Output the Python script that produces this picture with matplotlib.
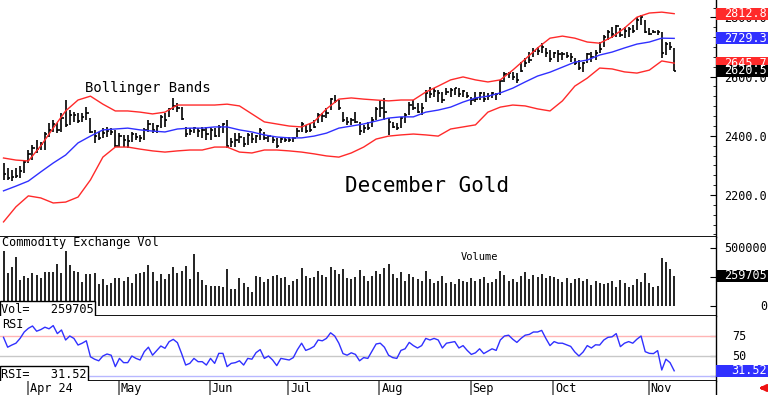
import numpy as np
import pandas as pd
import matplotlib
matplotlib.use("Agg")
import matplotlib.pyplot as plt
from matplotlib.patches import Rectangle, FancyArrowPatch
from matplotlib.ticker import AutoMinorLocator

plt.rcParams['font.family'] = ['DejaVu Sans Mono']

W, H, DPI = 768, 395, 100
RIGHT = 716  # pixel x of the price scale line

RED = '#ff2a2a'
BLUE = '#3030ff'

# trading days of the December 2024 gold contract shown
holidays = ['2024-03-29', '2024-05-27', '2024-06-19', '2024-07-04', '2024-09-02']
dates = pd.bdate_range('2024-03-21', '2024-11-11', freq='C', holidays=holidays)

high = [2308, 2290, 2284, 2290, 2298, 2318, 2352, 2369, 2386, 2379,
        2413, 2443, 2453, 2443, 2477, 2521, 2487, 2480, 2477, 2477,
        2497, 2460, 2420, 2413, 2426, 2430, 2426, 2420, 2409, 2403,
        2403, 2413, 2409, 2403, 2426, 2453, 2443, 2436, 2470, 2477,
        2494, 2528, 2511, 2497, 2430, 2426, 2430, 2426, 2430, 2430,
        2426, 2426, 2436, 2443, 2453, 2393, 2409, 2409, 2396, 2409,
        2409, 2403, 2426, 2413, 2403, 2396, 2393, 2396, 2393, 2396,
        2396, 2426, 2447, 2436, 2443, 2453, 2477, 2477, 2494, 2528,
        2538, 2521, 2480, 2464, 2460, 2480, 2447, 2436, 2447, 2464,
        2497, 2521, 2528, 2460, 2447, 2443, 2464, 2477, 2514, 2521,
        2511, 2511, 2555, 2565, 2561, 2555, 2548, 2561, 2561, 2561,
        2561, 2555, 2548, 2531, 2548, 2548, 2548, 2545, 2548, 2545,
        2588, 2615, 2615, 2615, 2612, 2649, 2663, 2683, 2697, 2700,
        2713, 2697, 2690, 2683, 2690, 2683, 2683, 2680, 2663, 2656,
        2649, 2680, 2683, 2690, 2717, 2740, 2757, 2768, 2774, 2764,
        2768, 2768, 2774, 2801, 2808, 2791, 2764, 2757, 2757, 2751,
        2717, 2717, 2697]

low = [2251, 2251, 2248, 2257, 2257, 2274, 2308, 2318, 2342, 2352,
       2352, 2396, 2413, 2409, 2413, 2430, 2436, 2447, 2443, 2447,
       2453, 2409, 2376, 2386, 2393, 2396, 2403, 2362, 2362, 2362,
       2359, 2379, 2386, 2379, 2386, 2413, 2409, 2409, 2426, 2430,
       2464, 2487, 2480, 2453, 2396, 2403, 2409, 2396, 2393, 2386,
       2386, 2396, 2396, 2409, 2359, 2362, 2362, 2376, 2362, 2369,
       2376, 2376, 2386, 2386, 2379, 2376, 2359, 2376, 2379, 2379,
       2379, 2396, 2413, 2409, 2413, 2426, 2443, 2447, 2460, 2487,
       2511, 2487, 2447, 2436, 2436, 2443, 2403, 2409, 2420, 2430,
       2453, 2464, 2453, 2403, 2426, 2420, 2426, 2443, 2470, 2487,
       2477, 2470, 2514, 2528, 2531, 2514, 2511, 2538, 2531, 2538,
       2531, 2531, 2528, 2504, 2514, 2521, 2514, 2521, 2528, 2521,
       2538, 2582, 2595, 2588, 2578, 2615, 2632, 2646, 2666, 2673,
       2680, 2666, 2649, 2663, 2649, 2656, 2663, 2649, 2639, 2622,
       2615, 2646, 2649, 2656, 2680, 2700, 2724, 2730, 2734, 2734,
       2730, 2734, 2747, 2757, 2774, 2747, 2740, 2747, 2740, 2663,
       2673, 2690, 2618]

close = [2270, 2258, 2262, 2265, 2280, 2310, 2340, 2360, 2355, 2374,
         2405, 2420, 2440, 2418, 2460, 2435, 2470, 2470, 2450, 2465,
         2478, 2412, 2400, 2392, 2410, 2415, 2414, 2365, 2400, 2385,
         2383, 2405, 2395, 2392, 2420, 2440, 2418, 2432, 2465, 2452,
         2490, 2500, 2495, 2458, 2405, 2415, 2425, 2415, 2418, 2405,
         2420, 2400, 2430, 2440, 2365, 2380, 2385, 2395, 2372, 2403,
         2390, 2400, 2420, 2392, 2398, 2385, 2365, 2390, 2387, 2385,
         2392, 2415, 2440, 2415, 2420, 2430, 2470, 2468, 2478, 2525,
         2518, 2495, 2452, 2445, 2455, 2448, 2415, 2428, 2425, 2455,
         2490, 2495, 2480, 2445, 2430, 2425, 2460, 2470, 2505, 2495,
         2482, 2495, 2545, 2540, 2550, 2545, 2520, 2548, 2555, 2560,
         2540, 2552, 2535, 2520, 2525, 2545, 2525, 2535, 2545, 2540,
         2585, 2610, 2612, 2600, 2590, 2620, 2646, 2655, 2685, 2685,
         2700, 2680, 2660, 2680, 2675, 2675, 2670, 2665, 2645, 2630,
         2645, 2675, 2665, 2680, 2695, 2735, 2752, 2745, 2770, 2740,
         2755, 2760, 2755, 2790, 2800, 2750, 2745, 2750, 2752, 2680,
         2710, 2700, 2620.5]

volume = [477, 287, 336, 422, 224, 259, 241, 287, 267, 241,
          296, 290, 290, 362, 284, 477, 353, 304, 290, 210,
          276, 276, 284, 190, 233, 181, 201, 241, 241, 216,
          253, 196, 279, 282, 296, 353, 296, 218, 276, 230,
          273, 333, 282, 304, 345, 230, 448, 290, 224, 181,
          175, 175, 175, 166, 319, 147, 147, 244, 201, 166,
          123, 259, 250, 210, 230, 260, 270, 240, 250, 180,
          220, 230, 330, 260, 240, 250, 300, 270, 250, 340,
          310, 280, 320, 240, 230, 250, 310, 260, 220, 260,
          300, 280, 330, 360, 280, 240, 290, 220, 280, 250,
          230, 220, 300, 230, 200, 220, 260, 200, 210, 190,
          230, 220, 210, 240, 220, 230, 250, 200, 210, 230,
          300, 270, 220, 230, 210, 260, 290, 230, 270, 250,
          280, 240, 260, 250, 230, 210, 240, 200, 230, 240,
          220, 230, 180, 220, 198, 190, 198, 218, 166, 224,
          196, 166, 181, 230, 210, 282, 201, 164, 175, 411,
          377, 316, 259.705]
volume = [v * 1000 for v in volume]

rsi = [73.3, 61, 63.7, 66, 72, 80, 84.6, 87.5, 81, 83,
       86, 84, 88, 78, 82.5, 70, 75, 72, 63.7, 66,
       69, 49, 46, 44, 50, 52.5, 51, 36.7, 47, 41.7,
       41.7, 50, 47, 45, 55.4, 61, 51, 56.7, 62.5, 59.6,
       67.9, 70.8, 66.7, 53.3, 38.7, 40.8, 47, 42.9, 42.9, 38.7,
       47, 40.8, 53.3, 53.3, 36.7, 40.8, 41.7, 44, 38.7, 47,
       46, 54.2, 58, 47, 50, 45, 38, 47, 46, 45,
       48, 58, 66, 57, 59, 62, 70, 69, 72, 79,
       75, 66, 53, 51, 54, 52, 44, 48, 47, 56,
       65, 66, 61, 51, 48, 47, 57, 59, 67, 63,
       60, 63, 72, 70, 72, 70, 60, 66, 67, 68,
       60, 63, 57, 52, 54, 59, 53, 56, 59, 57,
       70, 75, 76, 71, 67, 72, 76, 77, 80, 80,
       82, 72, 63, 68, 66, 66, 64, 62, 55, 50,
       55, 63, 60, 64, 63.7, 70, 73.3, 74, 78, 61.7,
       66, 68, 66, 71, 75, 55.4, 53.3, 53, 56.7, 32.5,
       46, 41.7, 31.52]

# Bollinger band readings, one every 3 sessions
band_idx = list(range(0, 163, 3))
upper = [2325, 2318, 2315, 2366, 2426, 2484, 2521, 2534, 2507, 2484,
         2484, 2480, 2474, 2480, 2504, 2504, 2504, 2504, 2507, 2501,
         2474, 2447, 2440, 2433, 2430, 2447, 2491, 2524, 2528, 2524,
         2521, 2518, 2521, 2521, 2548, 2568, 2589, 2599, 2589, 2582,
         2589, 2622, 2659, 2697, 2730, 2737, 2730, 2717, 2713, 2734,
         2764, 2801, 2815, 2818, 2812.8]
middle = [2214, 2230, 2247, 2278, 2308, 2335, 2376, 2399, 2420, 2423,
          2426, 2420, 2416, 2413, 2423, 2426, 2426, 2430, 2430, 2420,
          2413, 2403, 2396, 2393, 2393, 2399, 2409, 2426, 2433, 2440,
          2450, 2460, 2464, 2464, 2480, 2487, 2497, 2514, 2528, 2534,
          2545, 2561, 2582, 2602, 2615, 2632, 2649, 2656, 2673, 2683,
          2697, 2710, 2717, 2730, 2729.3]
lower = [2109, 2160, 2197, 2190, 2173, 2176, 2193, 2251, 2328, 2362,
         2362, 2355, 2349, 2345, 2349, 2352, 2352, 2362, 2362, 2345,
         2342, 2352, 2352, 2349, 2345, 2339, 2332, 2328, 2342, 2362,
         2389, 2399, 2403, 2406, 2403, 2399, 2423, 2430, 2437, 2480,
         2497, 2504, 2501, 2491, 2484, 2518, 2568, 2595, 2629, 2626,
         2616, 2612, 2622, 2653, 2645.7]

assert len(dates) == len(close) == len(high) == len(low) == len(volume) == len(rsi)
assert len(band_idx) == len(upper) == len(middle) == len(lower)

fig = plt.figure(figsize=(W / DPI, H / DPI), dpi=DPI)
fig.patch.set_facecolor('white')


def px_axes(x0, y0, x1, y1):
    return fig.add_axes([x0 / W, 1 - y1 / H, (x1 - x0) / W, (y1 - y0) / H])


ax = px_axes(0, 0, RIGHT, 237)
axv = px_axes(0, 237, RIGHT, 316)
axr = px_axes(0, 316, RIGHT, 381)
axd = px_axes(0, 381, RIGHT, 395)

idx = np.arange(len(close))
XLIM = (-0.85, 172.1)

for a in (ax, axv, axr, axd):
    a.set_xlim(*XLIM)
    a.set_xticks([])
    a.spines['left'].set_visible(False)
    a.spines['top'].set_visible(False)
    a.spines['right'].set_linewidth(1.0)
    a.spines['bottom'].set_linewidth(1.3)

# ---- price panel
ax.vlines(idx, low, high, color='black', lw=1.2)
ax.hlines(close, idx, idx + 0.55, color='black', lw=1.2)
ax.plot(band_idx, upper, color=RED, lw=1.0)
ax.plot(band_idx, lower, color=RED, lw=1.0)
ax.plot(band_idx, middle, color=BLUE, lw=1.0)
ax.set_ylim(2058, 2859)
ax.yaxis.tick_right()
ax.set_yticks([2200, 2400, 2600, 2800])
ax.set_yticklabels([f'{v:.1f}' for v in [2200, 2400, 2600, 2800]])
ax.yaxis.set_minor_locator(AutoMinorLocator(6))
ax.tick_params(axis='y', which='major', direction='in', length=4, labelsize=8.5, pad=6)
ax.tick_params(axis='y', which='minor', direction='in', length=2)

fig.text(85 / W, 1 - 88 / H, 'Bollinger Bands', fontsize=10, va='center', ha='left')
fig.text(345 / W, 1 - 186 / H, 'December Gold', fontsize=15, va='center', ha='left')

# ---- volume panel
axv.vlines(idx, 0, volume, color='#111111', lw=1.3)
axv.set_ylim(-86000, 595000)
axv.yaxis.tick_right()
axv.set_yticks([0, 250000, 500000])
axv.set_yticklabels([])
axv.tick_params(axis='y', direction='in', length=4)
fig.text(2 / W, 1 - 243 / H, 'Commodity Exchange Vol', fontsize=8.6, va='center', ha='left')
fig.text(461 / W, 1 - 257 / H, 'Volume', fontsize=7.5, va='center', ha='left')
axv.text(0.002, 0.005, f'Vol=   {volume[-1]:.0f}', transform=axv.transAxes, fontsize=8.6,
         ha='left', va='bottom', zorder=6,
         bbox=dict(boxstyle='square,pad=0.12', fc='white', ec='black', lw=1))

# ---- RSI panel
axr.axhline(75, color='#ffb4b4', lw=1)
axr.axhline(50, color='#c8c8c8', lw=1)
axr.axhline(25, color='#b8b8ff', lw=1)
axr.plot(idx, rsi, color=BLUE, lw=1.0)
axr.set_ylim(18.75, 100)
axr.yaxis.tick_right()
axr.set_yticks([25, 50, 75])
axr.set_yticklabels([])
axr.tick_params(axis='y', direction='in', length=4)
fig.text(2 / W, 1 - 325 / H, 'RSI', fontsize=8.6, va='center', ha='left')
axr.text(0.002, 0.005, f'RSI=   {rsi[-1]:.2f}', transform=axr.transAxes, fontsize=8.6,
         ha='left', va='bottom', zorder=6,
         bbox=dict(boxstyle='square,pad=0.12', fc='white', ec='black', lw=1))

# ---- date strip
axd.set_ylim(0, 1)
axd.set_yticks([])
axd.spines['bottom'].set_visible(False)
first = [i for i in range(1, len(dates)) if dates[i].month != dates[i - 1].month]
for n, i in enumerate(first):
    lab = dates[i].strftime('%b %y') if n == 0 else dates[i].strftime('%b')
    axd.axvline(i - 0.2, color='#606060', lw=1.2)
    axd.text(i + 0.3, 0.45, lab, fontsize=8.6, va='center', ha='left')


# ---- right-hand value labels
def ypix(a, v):
    return a.transData.transform((0, v))[1]


def value_box(a, v, text, color, h=12):
    y = ypix(a, v)
    fig.add_artist(Rectangle((RIGHT / W, (y - h / 2) / H), (W - RIGHT) / W, h / H,
                             transform=fig.transFigure, fc=color, ec='none', zorder=8))
    fig.text(767 / W, y / H, text, color='white', fontsize=8.5, ha='right', va='center', zorder=9)


def value_text(a, v, text, x_text=767, ha='right'):
    fig.text(x_text / W, ypix(a, v) / H, text, fontsize=8.5, ha=ha, va='center')


value_box(ax, upper[-1], f'{upper[-1]:.1f}', RED)
value_box(ax, middle[-1], f'{middle[-1]:.1f}', BLUE)
value_box(ax, lower[-1], f'{lower[-1]:.1f}', RED)
value_box(ax, close[-1], f'{close[-1]:.1f}', 'black')

value_text(axv, 500000, '500000')
value_text(axv, 0, '0')
value_box(axv, volume[-1], f'{volume[-1]:.0f}', 'black')

value_text(axr, 75, '75', x_text=732, ha='left')
value_text(axr, 50, '50', x_text=732, ha='left')
value_box(axr, rsi[-1], f'{rsi[-1]:.2f}', BLUE)

# red scroll arrow under the scale
fig.add_artist(FancyArrowPatch((767 / W, 1 - 388 / H), (756 / W, 1 - 388 / H),
                               transform=fig.transFigure, arrowstyle='-|>',
                               mutation_scale=9, color='#ee1111', lw=2.2))

fig.savefig('out.png', dpi=DPI)
